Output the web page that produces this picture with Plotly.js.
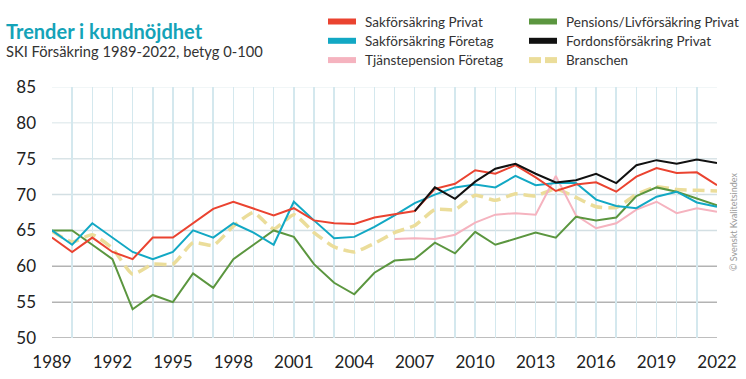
<!DOCTYPE html>
<html><head><meta charset="utf-8">
<script src="https://cdn.plot.ly/plotly-3.0.1.min.js"></script>
<style>html,body{margin:0;padding:0;background:#fff}#chart{width:746px;height:379px}</style>
</head><body><div id="chart"></div>
<script>
const years = [1989,1990,1991,1992,1993,1994,1995,1996,1997,1998,1999,2000,2001,2002,2003,2004,2005,2006,2007,2008,2009,2010,2011,2012,2013,2014,2015,2016,2017,2018,2019,2020,2021,2022];
const sakPrivat = [64,62,64,62,61,64,64,66,68,69,68,67.1,68.1,66.4,66,65.9,66.8,67.2,67.7,70.8,71.5,73.4,72.9,74.1,72.4,70.5,71.4,71.7,70.4,72.5,73.7,73,73.1,71.3];
const sakForetag = [65,63,66,64,62,61,62,65,64,66,64.7,63,69,66.4,63.9,64.1,65.5,67.1,68.8,70,71,71.4,71,72.6,71.3,71.6,71.6,69.3,68.4,68.1,69.7,70.4,68.9,68.3];
const tjanstepension = [null,null,null,null,null,null,null,null,null,null,null,null,null,null,null,null,null,63.8,63.9,63.8,64.4,66.1,67.2,67.4,67.2,72.6,67.1,65.3,66,67.9,69,67.4,68.1,67.6];
const pensionLiv = [65,65,63,61,54,56,55,59,57,61,63,65,64.1,60.3,57.7,56.1,59.1,60.8,61,63.3,61.8,64.8,63,63.9,64.7,64,66.9,66.4,66.8,69.8,71,70.4,69.4,68.5];
const fordon = [null,null,null,null,null,null,null,null,null,null,null,null,null,null,null,null,null,null,67.7,71,69.4,71.8,73.6,74.3,72.9,71.7,72.0,72.9,71.6,74.1,74.8,74.3,74.9,74.4];
const branschen = [64.9,63.4,64.4,62.5,58.9,60.3,60.3,63.3,62.9,65.6,67.5,65.2,67.2,64.7,62.7,62,63.2,64.7,65.7,67.9,67.9,69.9,69.2,70.1,69.8,70.8,69.6,68.3,68.2,70,71.1,70.7,70.6,70.5];
const yTicks = [50,55,60,65,70,75,80,85];
const seriesNames = ['Sakförsäkring Privat','Sakförsäkring Företag','Tjänstepension Företag','Pensions/Livförsäkring Privat','Fordonsförsäkring Privat','Branschen'];

const C = {red:'#ea4330', blue:'#12a8c4', pink:'#f5b3bf', green:'#5b963f', black:'#111111', beige:'#ebdd9a'};
const font = 'Lato, "Noto Sans", sans-serif';

const traces = [
  {x:years, y:branschen, name:seriesNames[5], mode:'lines', line:{color:C.beige, width:3.5, dash:'12px,6px', shape:'spline', smoothing:0.5}},
  {x:years, y:tjanstepension, name:seriesNames[2], mode:'lines', line:{color:C.pink, width:2}},
  {x:years, y:pensionLiv, name:seriesNames[3], mode:'lines', line:{color:C.green, width:2}},
  {x:years, y:sakForetag, name:seriesNames[1], mode:'lines', line:{color:C.blue, width:2}},
  {x:years, y:sakPrivat, name:seriesNames[0], mode:'lines', line:{color:C.red, width:2}},
  {x:years, y:fordon, name:seriesNames[4], mode:'lines', line:{color:C.black, width:2}}
].map(t => Object.assign(t, {showlegend:false, hoverinfo:'skip'}));

// horizontal grid lines
const gridColors = {50:'#a9a9a9',55:'#b3b3b3',60:'#b3b3b3',65:'#d3dfe3',70:'#d3dfe3',75:'#d9e4e7',80:'#e6eef0',85:'#edf3f5'};
const shapes = yTicks.map(v => ({type:'line', xref:'paper', yref:'y', x0:0, x1:1, y0:v, y1:v, layer:'below', line:{color:gridColors[v], width:1.5}}));

// custom legend
const pw = 665, ph = 251, ml = 52, mt = 87;
const px = v => (v - ml) / pw;
const py = v => (mt + ph - v) / ph;
const legendItems = [
  {name:seriesNames[0], color:C.red, col:0, row:0},
  {name:seriesNames[1], color:C.blue, col:0, row:1},
  {name:seriesNames[2], color:C.pink, col:0, row:2},
  {name:seriesNames[3], color:C.green, col:1, row:0},
  {name:seriesNames[4], color:C.black, col:1, row:1},
  {name:seriesNames[5], color:C.beige, col:1, row:2, dash:true}
];
const annotations = [];
legendItems.forEach(it => {
  const x0 = it.col === 0 ? 328 : 529;
  const yy = 21.5 + it.row * 19.3;
  if (it.dash) {
    shapes.push({type:'line', xref:'paper', yref:'paper', x0:px(x0), x1:px(x0+12), y0:py(yy), y1:py(yy), line:{color:it.color, width:6}});
    shapes.push({type:'line', xref:'paper', yref:'paper', x0:px(x0+16), x1:px(x0+28), y0:py(yy), y1:py(yy), line:{color:it.color, width:6}});
  } else {
    shapes.push({type:'line', xref:'paper', yref:'paper', x0:px(x0), x1:px(x0+28), y0:py(yy), y1:py(yy), line:{color:it.color, width:6}});
  }
  annotations.push({xref:'paper', yref:'paper', x:px(x0+35), y:py(yy), xanchor:'left', yanchor:'middle', showarrow:false, text:it.name, font:{family:font, size:13.5, color:'#333'}});
});
annotations.push({xref:'paper', yref:'paper', x:px(4), y:py(31), xanchor:'left', yanchor:'middle', showarrow:false, text:'<b>Trender i kundnöjdhet</b>', font:{family:font, size:20, color:'#14a3b8'}});
annotations.push({xref:'paper', yref:'paper', x:px(4), y:py(51), xanchor:'left', yanchor:'middle', showarrow:false, text:'SKI Försäkring 1989-2022, betyg 0-100', font:{family:font, size:14.7, color:'#333'}});
annotations.push({xref:'paper', yref:'paper', x:px(733), y:py(222), xanchor:'center', yanchor:'middle', showarrow:false, textangle:-90, text:'© Svenskt Kvalitetsindex', font:{family:font, size:9, color:'#999'}});

const layout = {
  width:746, height:379,
  margin:{l:52, r:29, t:87, b:41},
  paper_bgcolor:'#fff', plot_bgcolor:'#fff',
  showlegend:false,
  xaxis:{range:[1989,2022], tick0:1989, dtick:3, showgrid:true, gridcolor:'#d4e8ee', gridwidth:1.5,
    minor:{dtick:1, tick0:1989, showgrid:true, gridcolor:'#d4e8ee', gridwidth:1.5},
    zeroline:false, showline:false, ticks:'', tickfont:{family:font, size:17, color:'#222'}, ticklabelstandoff:12},
  yaxis:{range:[50,85], tickvals:yTicks, showgrid:false, zeroline:false, showline:false, ticks:'',
    tickfont:{family:font, size:17, color:'#222'}, ticklabelstandoff:15},
  shapes:shapes, annotations:annotations
};
Plotly.newPlot('chart', traces, layout, {displayModeBar:false, staticPlot:true});
</script></body></html>
